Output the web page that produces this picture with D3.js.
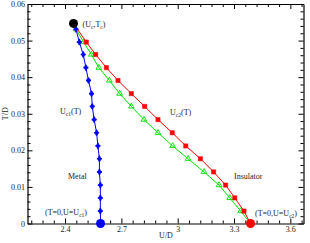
<!DOCTYPE html>
<html><head><meta charset="utf-8">
<script src="https://cdn.jsdelivr.net/npm/d3@7"></script>
<style>body{margin:0;background:#fff}svg{display:block}text{font-family:"Liberation Serif","DejaVu Serif",serif;fill:#222}</style>
</head><body><div id="c"></div>
<script>
const T = [0.0547,0.0531,0.0496,0.0462,0.0426,0.0391,0.0355,0.0320,0.0284,0.0248,0.0212,0.0177,0.0141,0.0105,0.0070,0.0034,0];
const Uc1 = [2.445,2.458,2.476,2.497,2.511,2.525,2.541,2.545,2.555,2.568,2.575,2.583,2.583,2.588,2.588,2.588,2.589];
const Uc2 = [2.445,null,2.513,2.563,2.620,2.682,2.753,2.824,2.895,2.971,3.043,3.121,3.191,3.255,3.304,3.353,3.388];
const Ugreen = [2.445,2.458,2.499,2.540,2.580,2.636,2.691,2.753,2.820,2.895,2.973,3.055,3.140,3.220,3.277,3.335,3.388];
const xTicks = [2.4,2.7,3.0,3.3,3.6];
const xTickLabels = ["2.4","2.7","3","3.3","3.6"];
const yTicks = [0,0.01,0.02,0.03,0.04,0.05,0.06];
const yTickLabels = ["0","0.01","0.02","0.03","0.04","0.05","0.06"];
const special = {Tc:[2.445,0.0547], Uc1:[2.589,0], Uc2:[3.388,0]};

const W=310,H=243;
const m={l:27.5,r:6.5,t:4,b:19.5};
const svg=d3.select("#c").append("svg").attr("width",W).attr("height",H);
const x=d3.scaleLinear().domain([2.2,3.67]).range([m.l,W-m.r]);
const y=d3.scaleLinear().domain([0,0.06]).range([H-m.b,m.t]);

const xMinor=d3.range(2.22,3.67,0.06).filter(v=>!xTicks.some(t=>Math.abs(t-v)<1e-6));
const yMinor=d3.range(0,0.0601,0.002).filter(v=>!yTicks.some(t=>Math.abs(t-v)<1e-6));

function axes(){
  const g=svg.append("g");
  g.append("g").attr("transform",`translate(0,${y(0)})`)
    .call(d3.axisBottom(x).tickValues(xTicks).tickFormat((d,i)=>xTickLabels[i]).tickSizeInner(-5).tickSizeOuter(0).tickPadding(3));
  g.append("g").attr("transform",`translate(0,${y(0)})`).call(d3.axisBottom(x).tickValues(xMinor).tickFormat("").tickSizeInner(-3).tickSizeOuter(0)).select(".domain").remove();
  g.append("g").attr("transform",`translate(0,${y(0.06)})`)
    .call(d3.axisTop(x).tickValues(xTicks).tickFormat("").tickSizeInner(-5).tickSizeOuter(0));
  g.append("g").attr("transform",`translate(0,${y(0.06)})`).call(d3.axisTop(x).tickValues(xMinor).tickFormat("").tickSizeInner(-3).tickSizeOuter(0)).select(".domain").remove();
  g.append("g").attr("transform",`translate(${x(2.2)},0)`)
    .call(d3.axisLeft(y).tickValues(yTicks).tickFormat((d,i)=>yTickLabels[i]).tickSizeInner(-5).tickSizeOuter(0).tickPadding(2.5));
  g.append("g").attr("transform",`translate(${x(2.2)},0)`).call(d3.axisLeft(y).tickValues(yMinor).tickFormat("").tickSizeInner(-3).tickSizeOuter(0)).select(".domain").remove();
  g.append("g").attr("transform",`translate(${x(3.67)},0)`)
    .call(d3.axisRight(y).tickValues(yTicks).tickFormat("").tickSizeInner(-5).tickSizeOuter(0));
  g.append("g").attr("transform",`translate(${x(3.67)},0)`).call(d3.axisRight(y).tickValues(yMinor).tickFormat("").tickSizeInner(-3).tickSizeOuter(0)).select(".domain").remove();
  g.selectAll("path.domain").attr("stroke","#000").attr("stroke-width",1.2);
  g.selectAll(".tick line").attr("stroke","#000");
  g.selectAll(".tick text").attr("font-family","Liberation Serif").attr("font-size",8).attr("fill","#333");
}
axes();

function series(U,color,sym,fillSym,size){
  const pts=U.map((u,i)=>({u,t:T[i]})).filter(d=>d.u!=null);
  svg.append("path").datum(pts).attr("fill","none").attr("stroke",color).attr("stroke-width",1)
    .attr("d",d3.line().x(d=>x(d.u)).y(d=>y(d.t)));
  const mk=pts.slice(1,pts.length-1);
  svg.append("g").selectAll("path").data(mk).join("path")
    .attr("transform",d=>`translate(${x(d.u)},${y(d.t)})`)
    .attr("d",d3.symbol().type(sym).size(size))
    .attr("fill",fillSym?color:"none").attr("stroke",color).attr("stroke-width",fillSym?0.5:0.9);
}
series(Ugreen,"#00e000",d3.symbolTriangle,false,14);
series(Uc2,"#ff0000",d3.symbolSquare,true,18);
series(Uc1,"#0000ff",d3.symbolDiamond,true,12);
svg.append("g").selectAll("path").data(Uc1.map((u,i)=>({u,t:T[i]})).slice(1,T.length-1)).join("path")
  .attr("transform",d=>`translate(${x(d.u)},${y(d.t)})`)
  .attr("d",d3.symbol().type(d3.symbolCross).size(14)).attr("fill","#0000ff");

svg.append("circle").attr("cx",x(special.Tc[0])).attr("cy",y(special.Tc[1])).attr("r",4.5).attr("fill","#000");
svg.append("circle").attr("cx",x(special.Uc1[0])).attr("cy",y(special.Uc1[1])).attr("r",4.5).attr("fill","#0000ff");
svg.append("circle").attr("cx",x(special.Uc2[0])).attr("cy",y(special.Uc2[1])).attr("r",4.5).attr("fill","#ff0000");

function subLabel(xp,yp,pieces){
  const t=svg.append("text").attr("x",xp).attr("y",yp).attr("font-size",8);
  let down=false;
  pieces.forEach(p=>{
    const sp=t.append("tspan");
    if(p.sub){sp.attr("font-size",5.5).attr("dy",down?0:2);down=true;}
    else{sp.attr("dy",down?-2:0);down=false;}
    sp.text(p.s);
  });
  return t;
}
subLabel(82.5,27,[{s:"(U"},{s:"c",sub:1},{s:",T"},{s:"c",sub:1},{s:")"}]);
subLabel(60,114,[{s:"U"},{s:"c1",sub:1},{s:"(T)"}]);
subLabel(170,115,[{s:"U"},{s:"c2",sub:1},{s:"(T)"}]);
subLabel(68,179,[{s:"Metal"}]);
subLabel(234,179,[{s:"Insulator"}]);
subLabel(45,215,[{s:"(T=0,U=U"},{s:"c1",sub:1},{s:")"}]);
subLabel(255,216,[{s:"(T=0,U=U"},{s:"c2",sub:1},{s:")"}]);
svg.append("text").attr("x",166).attr("y",238).attr("font-size",8).attr("text-anchor","middle").text("U/D");
svg.append("text").attr("transform",`translate(8,${(m.t+H-m.b)/2}) rotate(-90)`).attr("font-size",8).attr("text-anchor","middle").text("T/D");
</script></body></html>
